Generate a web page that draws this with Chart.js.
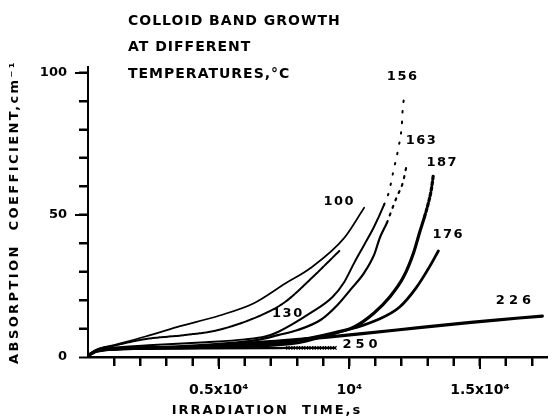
<!DOCTYPE html>
<html>
<head>
<meta charset="utf-8">
<script src="https://cdn.jsdelivr.net/npm/chart.js@4.4.0/dist/chart.umd.min.js"></script>
<style>
  html, body { margin: 0; padding: 0; background: #fff; }
  #wrap { position: relative; width: 553px; height: 420px; }
</style>
</head>
<body>
<div id="wrap"><canvas id="chart" width="553" height="420"></canvas></div>
<script>
// irradiation time (s) and absorption coefficient (cm^-1) per temperature (°C)
const t100 = [0, 300, 1000, 2200, 3400, 5040, 6330, 7580, 8520, 9810, 10570];
const a100 = [0.5, 2.5, 4.2, 7.2, 10.5, 14.6, 18.8, 26.0, 31.3, 41.9, 52.5];

const t130 = [0, 300, 1000, 2200, 3790, 5040, 6930, 7580, 8520, 9620];
const a130 = [0.5, 2.4, 4.0, 6.3, 7.8, 9.6, 16.0, 19.6, 27.4, 37.3];

const t156 = [0, 300, 1000, 2500, 4500, 6000, 6780, 7270, 8520, 9360, 9810, 10190, 10570, 10950, 11330, 11520, 11700, 11890, 12010, 12050, 12160];
const a156 = [0.5, 2.2, 3.3, 4.2, 5.2, 6.2, 7.2, 8.8, 15.5, 21.1, 26.4, 33.1, 39.4, 45.8, 53.5, 58.1, 65.8, 73.9, 81.3, 87.7, 93.0];

const t163 = [0, 300, 1000, 3000, 5000, 6500, 7270, 8030, 8900, 9550, 10040, 10570, 10950, 11170, 11440, 11630, 11820, 12050, 12200];
const a163 = [0.5, 2.0, 3.0, 3.6, 4.6, 6.0, 7.7, 9.5, 13.0, 18.3, 23.6, 29.6, 35.9, 41.9, 47.2, 51.8, 56.3, 61.3, 67.6];

const t187 = [0, 300, 1000, 4000, 7000, 8520, 9430, 10190, 10950, 11550, 12080, 12460, 12690, 12880, 13030, 13140, 13220];
const a187 = [0.5, 2.0, 2.8, 3.3, 4.6, 6.7, 8.5, 10.6, 15.5, 21.1, 28.2, 36.6, 43.7, 49.3, 54.2, 58.8, 64.1];

const t176 = [0, 300, 1000, 4000, 8030, 9170, 10190, 11060, 11930, 12580, 13070, 13410];
const a176 = [0.5, 2.0, 2.8, 3.3, 5.0, 7.7, 10.2, 13.0, 17.6, 24.6, 31.7, 37.3];

const t226 = [0, 300, 1000, 4240, 7270, 9170, 11820, 13710, 15610, 17390];
const a226 = [0.5, 2.0, 2.8, 3.6, 5.6, 7.0, 9.5, 11.3, 13.0, 14.4];

const t250 = [0, 300, 1000, 4000, 7000, 7650, 7850, 8050, 8250, 8450, 8650, 8850, 9050, 9250, 9450];
const a250 = [0.5, 2.0, 2.8, 3.0, 3.1, 3.2, 3.2, 3.2, 3.2, 3.2, 3.2, 3.2, 3.2, 3.2, 3.2];

const xTicks = [1000, 2000, 3000, 4000, 5000, 6000, 7000, 8000, 9000, 10000, 11000, 12000, 13000, 14000, 15000, 16000, 17000];
const yTicks = [0, 10, 20, 30, 40, 50, 60, 70, 80, 90, 100];
const xTickLabels = { 5000: '0.5x10\u2074', 10000: '10\u2074', 15000: '1.5x10\u2074' };
const yTickLabels = { 0: '0', 50: '50', 100: '100' };

const curveNames = ['156', '163', '187', '100', '130', '176', '226', '250'];
// where each curve name sits, in data units (time, coefficient)
const curveNameAt = [[12045, 98.6], [12765, 76], [13560, 68.3], [9620, 54.6], [7650, 15.1], [13790, 43], [16360, 20], [10490, 4.2]];

const titleLines = ['COLLOID BAND GROWTH', 'AT DIFFERENT', 'TEMPERATURES,\u00b0C'];

const pts = (xs, ys) => xs.map((x, i) => ({ x, y: ys[i] }));
const FONT = '"DejaVu Sans", sans-serif';

const base = {
  borderColor: '#000',
  backgroundColor: '#000',
  pointRadius: 0,
  fill: false,
  cubicInterpolationMode: 'monotone',
  borderCapStyle: 'round',
};

const dashAbove = (lim, dash) => ({
  borderDash: (ctx) => (ctx.p0.parsed.y >= lim ? dash : []),
});

const datasets = [
  { ...base, label: '100', data: pts(t100, a100), borderWidth: 1.7 },
  { ...base, label: '130', data: pts(t130, a130), borderWidth: 2, borderDash: [3, 1] },
  { ...base, label: '156', data: pts(t156, a156), borderWidth: 2, segment: dashAbove(50, [1.5, 9]) },
  { ...base, label: '163', data: pts(t163, a163), borderWidth: 2.2, segment: dashAbove(45, [2, 6]) },
  { ...base, label: '187', data: pts(t187, a187), borderWidth: 3.2, segment: dashAbove(47, [3, 2.5]) },
  { ...base, label: '176', data: pts(t176, a176), borderWidth: 2.8 },
  { ...base, label: '226', data: pts(t226, a226), borderWidth: 3.2, cubicInterpolationMode: 'default', tension: 0.2 },
  {
    ...base, label: '250', data: pts(t250, a250), borderWidth: 2.2,
    pointStyle: 'crossRot',
    pointRadius: (ctx) => (ctx.dataIndex >= 5 ? 2.4 : 0),
    pointBorderWidth: 1.2,
  },
];

const overlay = {
  id: 'overlay',
  afterDraw(chart) {
    const { ctx, chartArea } = chart;
    const xs = chart.scales.x;
    const ys = chart.scales.y;
    ctx.save();
    ctx.setLineDash([]);
    ctx.globalAlpha = 1;
    ctx.globalCompositeOperation = 'source-over';
    ctx.fillStyle = '#000';

    // tick marks from the scales; 0.5x10^4 and 50 steps a bit longer
    xTicks.forEach((v) => {
      const px = Math.round(xs.getPixelForValue(v));
      ctx.fillRect(px - 1, chartArea.bottom, 2, v % 5000 === 0 ? 12 : 9);
    });
    yTicks.forEach((v) => {
      if (v === 0) return;
      const py = Math.round(ys.getPixelForValue(v));
      const len = v % 50 === 0 ? 13 : 9;
      ctx.fillRect(chartArea.left - len, py - 1, len, 2);
    });

    ctx.textBaseline = 'middle';

    // title in the upper left
    ctx.font = `bold 14px ${FONT}`;
    ctx.letterSpacing = '1px';
    ctx.textAlign = 'left';
    [21, 47, 74].forEach((yy, i) => ctx.fillText(titleLines[i], 128, yy));

    // curve names
    ctx.font = `bold 13px ${FONT}`;
    ctx.textAlign = 'center';
    curveNames.forEach((n, i) => {
      const [tx, ty] = curveNameAt[i];
      ctx.letterSpacing = (n === '226' || n === '250') ? '4px' : '1.5px';
      ctx.fillText(n, xs.getPixelForValue(tx), ys.getPixelForValue(ty));
    });

    // axis titles
    ctx.font = `bold 13px ${FONT}`;
    ctx.letterSpacing = '2px';
    ctx.fillText('IRRADIATION  TIME,s', 267, 411);

    ctx.translate(15, 212);
    ctx.rotate(-Math.PI / 2);
    ctx.letterSpacing = '2.4px';
    ctx.fillText('ABSORPTION  COEFFICIENT,cm\u207b\u00b9', 0, 0);
    ctx.restore();
  },
};

new Chart(document.getElementById('chart'), {
  type: 'line',
  data: { datasets },
  plugins: [overlay],
  options: {
    responsive: false,
    animation: false,
    events: [],
    layout: { padding: { top: 67, right: 0, left: 0, bottom: 0 } },
    plugins: { legend: { display: false }, tooltip: { enabled: false } },
    scales: {
      x: {
        type: 'linear',
        min: 0,
        max: 17600,
        afterFit: (s) => { s.height = 63; },
        afterBuildTicks: (s) => { s.ticks = xTicks.map((value) => ({ value })); },
        border: { color: '#000', width: 2.5 },
        grid: { drawOnChartArea: false, drawTicks: true, tickLength: 9, tickColor: '#000', tickWidth: 2, color: '#000' },
        ticks: {
          autoSkip: false,
          maxRotation: 0,
          minRotation: 0,
          padding: 16,
          color: '#000',
          font: { family: FONT, size: 14, weight: 'bold' },
          callback: (v) => xTickLabels[v] || '',
        },
      },
      y: {
        type: 'linear',
        min: 0,
        max: 102,
        afterFit: (s) => { s.width = 88; },
        afterBuildTicks: (s) => { s.ticks = yTicks.map((value) => ({ value })); },
        border: { color: '#000', width: 2 },
        grid: { drawOnChartArea: false, drawTicks: true, tickLength: 9, tickColor: '#000', tickWidth: 2, color: '#000' },
        ticks: {
          autoSkip: false,
          padding: 12,
          color: '#000',
          font: { family: FONT, size: 13, weight: 'bold' },
          callback: (v) => yTickLabels[v] || '',
        },
      },
    },
  },
});
</script>
</body>
</html>
